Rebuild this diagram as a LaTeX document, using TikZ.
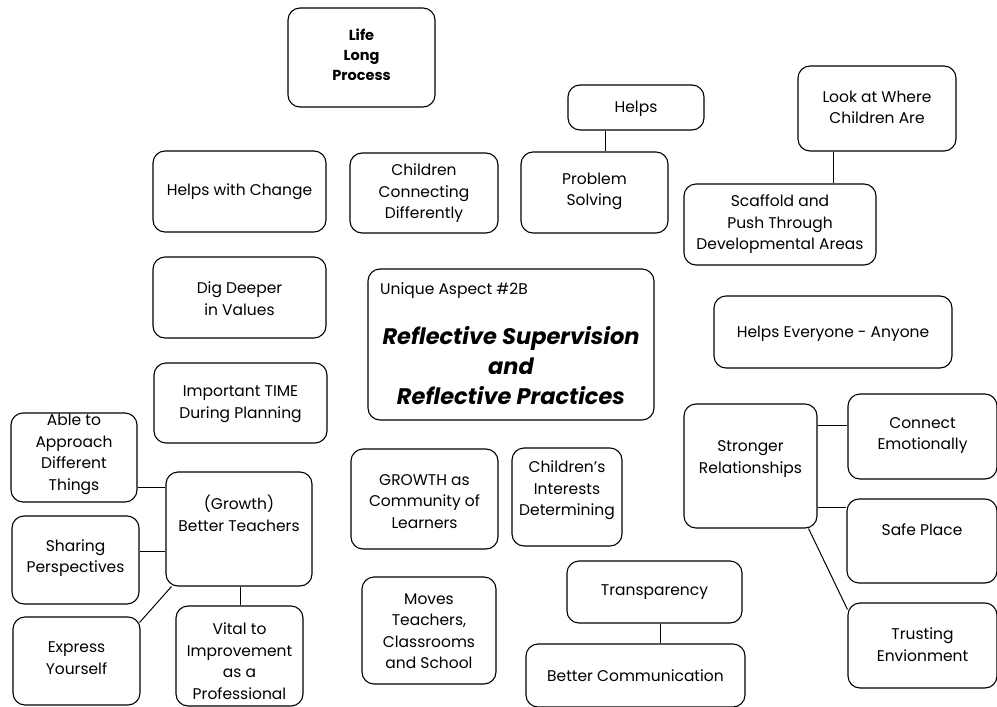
\documentclass[tikz,border=0pt]{standalone}
\usepackage{fontspec}
\setmainfont{Poppins}
\begin{document}
\begin{tikzpicture}[x=1pt,y=-1pt,
  box/.style={draw, line width=1.1pt, rounded corners=12pt, inner sep=0pt},
  txt/.style={align=center, font=\fontsize{15.5}{21.5}\selectfont, inner sep=0pt},
  link/.style={draw, line width=1pt}]
\useasboundingbox (0,0) rectangle (997,707);

% \bx{name}{cx}{cy}{w}{h}{text y}{text}
\newcommand\bx[7]{%
  \node[box, minimum width=#4, minimum height=#5] (#1) at (#2,#3) {};
  \node[txt] (#1-t) at (#2,#6+1.5) {#7};}

\node[box, minimum width=147, minimum height=99] (life) at (361.5,57.5) {};
\node[txt, font=\fontsize{14.5}{20}\selectfont\bfseries] (life-t) at (361.5,55) {Life\\Long\\Process};

\bx{change}{239.5}{191.5}{173}{81}{190}{Helps with Change}
\bx{conn}{424}{193}{148}{80}{192}{Children\\Connecting\\Differently}
\bx{helps}{636}{107.5}{136}{45}{107}{Helps}
\bx{prob}{594.5}{192.5}{147}{81}{190}{Problem\\Solving}
\bx{look}{877}{108.5}{158}{85}{106}{Look at Where\\Children Are}
\bx{scaf}{780}{224.5}{192}{81}{223}{Scaffold and\\Push Through\\Developmental Areas}
\bx{dig}{239.5}{297.5}{173}{81}{297}{Dig Deeper\\in Values}
\bx{every}{833}{332}{238}{72}{332}{Helps Everyone - Anyone}
\bx{time}{240.5}{403}{173}{80}{402.5}{Important TIME\\During Planning}

% central topic
\node[box, minimum width=286, minimum height=151] (main) at (511,344.5) {};
\node[txt, anchor=west] (main-a) at (380,291) {Unique Aspect \#2B};
\node[txt, font=\fontsize{22.5}{30}\selectfont\bfseries\itshape] (main-t) at (511,366)
  {Reflective Supervision\\and\\Reflective Practices};

% growth cluster
\bx{able}{74}{457.5}{126}{89}{453}{Able to\\Approach\\Different\\Things}
\bx{growth}{239}{529}{146}{114}{512}{(Growth)\\Better Teachers}
\bx{share}{75.5}{560}{127}{88}{556.5}{Sharing\\Perspectives}
\bx{express}{76.5}{661}{127}{88}{656.5}{Express\\Yourself}
\bx{vital}{239.5}{656}{127}{100}{659.5}{Vital to\\Improvement\\as a\\Professional}

\bx{grcom}{424.5}{499}{147}{100}{500}{GROWTH as\\Community of\\Learners}
\bx{chint}{567}{497}{110}{98}{489}{Children's\\Interests\\Determining}
\bx{moves}{429}{630.5}{134}{107}{629.5}{Moves\\Teachers,\\Classrooms\\and School}
\bx{trans}{654.5}{592}{175}{62}{591}{Transparency}
\bx{betcom}{635.5}{675.5}{219}{63}{674}{Better Communication}

% relationships cluster
\bx{strong}{750.5}{466}{133}{124}{457.5}{Stronger\\Relationships}
\bx{connect}{922.5}{436.5}{149}{85}{434}{Connect\\Emotionally}
\bx{safe}{922}{541}{150}{84}{528}{Safe Place}
\bx{trust}{922.5}{645.5}{149}{85}{643}{Trusting\\Envionment}

% connectors
\draw[link] (605,0 |- helps.south) -- (605,0 |- prob.north);
\draw[link] (833,0 |- look.south) -- (833,0 |- scaf.north);
\draw[link] (660,0 |- trans.south) -- (660,0 |- betcom.north);
\draw[link] (able.east |- 0,487) -- (growth.west |- 0,487);
\draw[link] (share.east |- 0,551) -- (growth.west |- 0,551);
\draw[link] ([xshift=-1,yshift=-6]express.north east) -- ([xshift=6]growth.south west);
\draw[link] (240,0 |- growth.south) -- (240,0 |- vital.north);
\draw[link] (strong.east |- 0,425) -- (connect.west |- 0,425);
\draw[link] (strong.east |- 0,507) -- (safe.west |- 0,507);
\draw[link] ([xshift=-9]strong.south east) -- ([yshift=-7]trust.north west);
\end{tikzpicture}
\end{document}
